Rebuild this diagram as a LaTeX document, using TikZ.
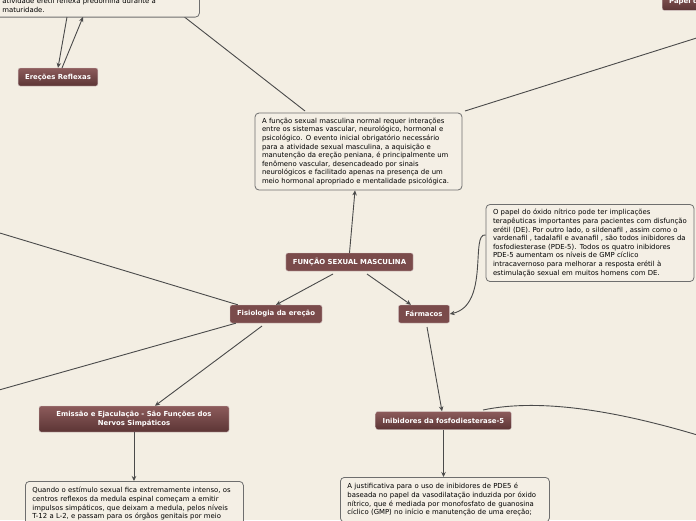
\documentclass[tikz,border=0pt]{standalone}
\usepackage{fontspec}
\setmainfont{DejaVu Sans}
\usetikzlibrary{
  positioning,
  arrows.meta,
  calc
}
\definecolor{paper}{HTML}{F3EEE3}
\definecolor{notefill}{HTML}{F4EFE5}
\definecolor{mind}{HTML}{7A4B4B}
\definecolor{mindtop}{HTML}{8C5B5B}
\definecolor{mindbot}{HTML}{5C3535}
\definecolor{wire}{HTML}{4A4A4A}

\begin{document}
\begin{tikzpicture}[
  x=1pt, y=-1pt,
  note/.style={draw=wire!80, fill=notefill, rounded corners=4pt, line width=0.8pt,
               font=\fontsize{6.9}{8.6}\selectfont, align=left, inner xsep=7pt, inner ysep=5pt},
  topic/.style={fill=mind, draw=white!70!mind, rounded corners=2pt, text=white,
                font=\fontsize{6.9}{8.6}\selectfont\bfseries, minimum height=18pt,
                inner xsep=7pt, align=center},
  subtopic/.style={topic, fill=none, top color=mindtop, bottom color=mindbot},
  link/.style={draw=wire, line width=0.9pt},
  arr/.style={link, -{Stealth[length=5pt, width=4.5pt]}}
]
  \useasboundingbox (0,0) rectangle (696,520);
  \fill[paper] (0,0) rectangle (696,520);
  \clip (0,0) rectangle (696,520);

  % off-screen ends
  \coordinate (offTL) at (137,-20);
  \coordinate (offTR) at (760,18);
  \coordinate (offL1) at (-40,221);
  \coordinate (offL2) at (-40,401);
  \coordinate (offR) at (720,442);

  % lines behind the boxes
  \draw[link] (offTL) -- (305,111);
  \draw[link] (465,111) -- (offTR);

  % top left (clipped)
  \node[note, anchor=south west, text width=190pt] (reflexa) at (-5,17.5)
    {atividade erétil reflexa predomina durante a\\maturidade.};
  \node[subtopic, anchor=south west] (papel) at (662,10.5) {Papel do};

  \node[subtopic] (ereflex) at (58,77) {Ereções Reflexas};

  % central text
  \node[note, text width=193pt] (central) at (358.5,151.5)
    {A função sexual masculina normal requer interações\\
     entre os sistemas vascular, neurológico, hormonal e\\
     psicológico. O evento inicial obrigatório necessário\\
     para a atividade sexual masculina, a aquisição e\\
     manutenção da ereção peniana, é principalmente um\\
     fenômeno vascular, desencadeado por sinais\\
     neurológicos e facilitado apenas na presença de um\\
     meio hormonal apropriado e mentalidade psicológica.};

  \node[topic] (funcao) at (349.5,262) {FUNÇÃO SEXUAL MASCULINA};
  \node[topic] (fisio) at (276,314) {Fisiologia da ereção};
  \node[topic] (farma) at (424,314) {Fármacos};

  \node[note, text width=194pt] (oxido) at (590,243)
    {O papel do óxido nítrico pode ter implicações\\
     terapêuticas importantes para pacientes com disfunção\\
     erétil (DE). Por outro lado, o sildenafil , assim como o\\
     vardenafil , tadalafil e avanafil , são todos inibidores da\\
     fosfodiesterase (PDE-5). Todos os quatro inibidores\\
     PDE-5 aumentam os níveis de GMP cíclico\\
     intracavernoso para melhorar a resposta erétil à\\
     estimulação sexual em muitos homens com DE.};

  \node[subtopic, minimum height=26pt, minimum width=190pt] (emissao) at (134,419)
    {Emissão e Ejaculação - São Funções dos\\Nervos Simpáticos};
  \node[subtopic] (inib) at (443.5,420.5) {Inibidores da fosfodiesterase-5};

  \node[note, anchor=north west, text width=204pt, inner ysep=6pt] (quando) at (25,481)
    {Quando o estímulo sexual fica extremamente intenso, os\\
     centros reflexos da medula espinal começam a emitir\\
     impulsos simpáticos, que deixam a medula, pelos níveis\\
     T-12 a L-2, e passam para os órgãos genitais por meio};
  \node[note, anchor=north west, text width=195pt, inner ysep=6pt] (justif) at (340,477)
    {A justificativa para o uso de inibidores de PDE5 é\\
     baseada no papel da vasodilatação induzida por óxido\\
     nítrico, que é mediada por monofosfato de guanosina\\
     cíclico (GMP) no início e manutenção de uma ereção;};

  % connectors
  \draw[arr] (67,17) -- (ereflex.north);
  \draw[arr] (62,68) -- (83,17);
  \draw[arr] (funcao.north) -- (central.south -| 355,0);
  \draw[arr] (333,274) -- (fisio.north);
  \draw[arr] (367,274) -- (farma.north -| 411,0);
  \draw[arr] (oxido.west |- 0,235) .. controls (470,232) and (490,305) .. (farma.east);
  \draw[link] (fisio.north west) ++(8,0) -- (offL1);
  \draw[link] (fisio.south west) ++(6,0) -- (offL2);
  \draw[arr] (262,326) -- (emissao.north -| 155,0);
  \draw[arr] (emissao.south) -- (quando.north -| emissao.south);
  \draw[arr] (427,327) -- (inib.north -| 442,0);
  \draw[link] (483,410) .. controls (540,398) and (620,410) .. (offR);
  \draw[arr] (inib.south) -- (justif.north -| inib.south);
\end{tikzpicture}
\end{document}
